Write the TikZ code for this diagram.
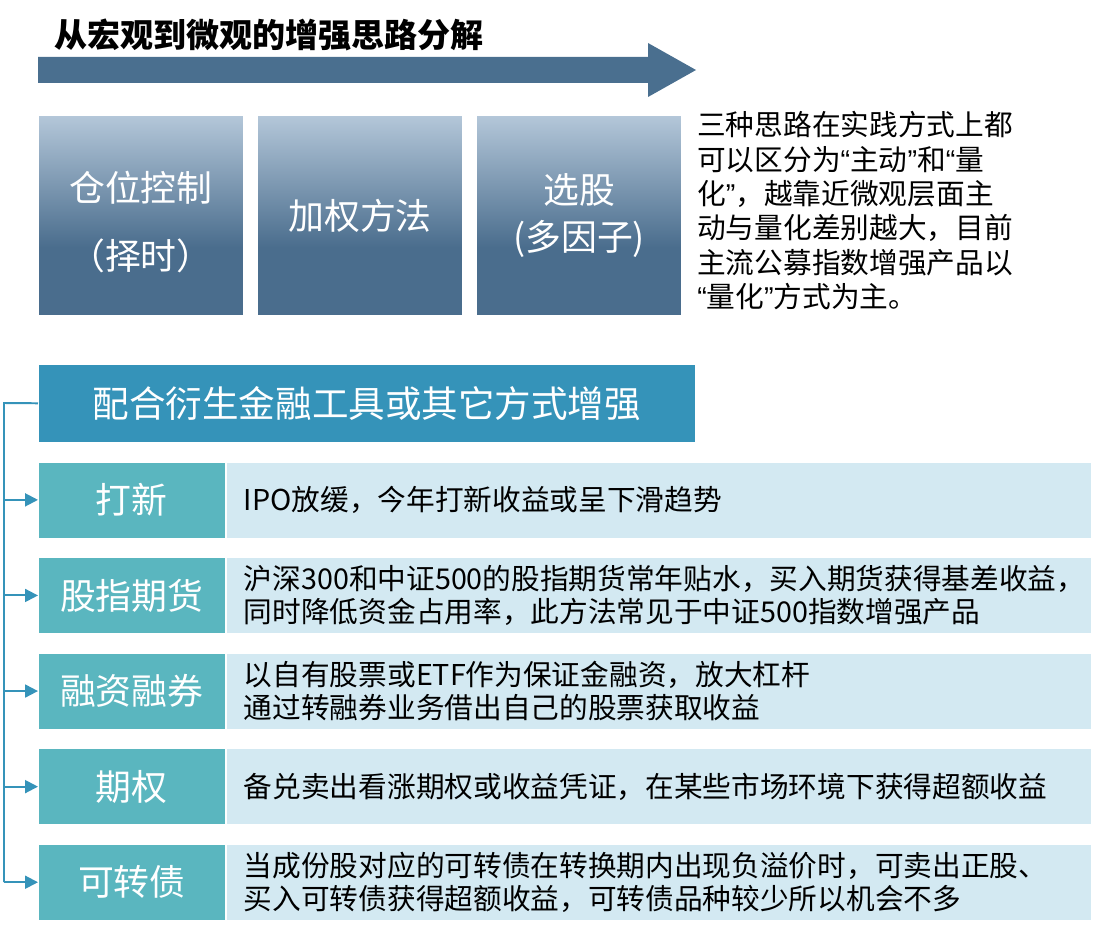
\documentclass[tikz,border=0pt]{standalone}
\usepackage{fontspec}
\setmainfont{Noto Sans CJK SC}
\newfontfamily\quotefont{Liberation Sans}
\usepackage{tikz}
\usetikzlibrary{arrows.meta, positioning, calc}
\definecolor{flowblue}{RGB}{74, 111, 143}
\definecolor{boxtop}{RGB}{180, 199, 217}
\definecolor{boxbot}{RGB}{74, 109, 141}
\definecolor{hdrblue}{RGB}{53, 147, 185}
\definecolor{tealbox}{RGB}{90, 182, 191}
\definecolor{paleblue}{RGB}{211, 233, 242}
\pgfdeclareverticalshading{stageshade}{100bp}{color(0bp)=(boxbot); color(42bp)=(boxbot); color(75bp)=(boxtop); color(100bp)=(boxtop)}
\newcommand{\oq}{{\quotefont “}}
\newcommand{\cq}{{\quotefont ”}}

\begin{document}
\begin{tikzpicture}[
  x=0.025cm, y=-0.025cm,
  stage/.style={shading=stageshade, draw=white, line width=0.6pt, minimum width=5.125cm, minimum height=5cm, inner sep=0pt, align=center, text=white, font=\fontsize{25.5}{34}\selectfont},
  hdrbox/.style={fill=hdrblue, draw=white, minimum width=16.425cm, minimum height=1.95cm, inner sep=0pt, text=white, font=\fontsize{26}{30}\selectfont},
  labbox/.style={fill=tealbox, draw=white, line width=0.4pt, minimum width=4.675cm, minimum height=1.9cm, inner sep=0pt, text=white, font=\fontsize{25.5}{30}\selectfont},
  descbox/.style={fill=paleblue, draw=white, line width=0.4pt, minimum height=1.9cm, text width=20.725cm, inner xsep=0.45cm, inner ysep=0pt, align=left, font=\fontsize{20.4}{23.5}\selectfont},
  rail/.style={draw=hdrblue, line width=1.4pt},
  feed/.style={rail, -{Triangle[length=0.32cm, width=0.32cm]}}
]
  \useasboundingbox (0,0) rectangle (1104,931);

  \node[anchor=west, inner sep=0pt, font=\fontsize{23.5}{26}\selectfont\bfseries] (title) at (54,35) {从宏观到微观的增强思路分解};
  \fill[flowblue] (38,57) -- (648,57) -- (648,43) -- (696,70) -- (648,97) -- (648,83) -- (38,83) -- cycle;

  \node[stage, anchor=north west] (pos) at (38,115) {\\[-0.1cm]仓位控制\\[0.5cm]（择时）};
  \node[stage, right=0.33cm of pos] (wgt) {加权方法};
  \node[stage, right=0.33cm of wgt] (pick) {选股\\(多因子)};

  \node[anchor=north west, inner sep=0pt, align=left, font=\fontsize{20.4}{24.5}\selectfont] (note) at (697,111) {
    三种思路在实践方式上都\\
    可以区分为\oq 主动\cq 和\oq 量\\
    化\cq ，越靠近微观层面主\\
    动与量化差别越大，目前\\
    主流公募指数增强产品以\\
    \oq 量化\cq 方式为主。
  };

  \node[hdrbox, anchor=north west] (hdr) at (38,364) {配合衍生金融工具或其它方式增强};

  \node[labbox, below=0.475cm of hdr.south west, anchor=north west] (ipo) {打新};
  \node[descbox, right=0pt of ipo] (ipod) {IPO放缓，今年打新收益或呈下滑趋势};

  \node[labbox, below=0.475cm of ipo.south west, anchor=north west] (fut) {股指期货};
  \node[descbox, right=0pt of fut] (futd) {沪深300和中证500的股指期货常年贴水，买入期货获得基差收益，\\同时降低资金占用率，此方法常见于中证500指数增强产品};

  \node[labbox, below=0.475cm of fut.south west, anchor=north west] (mrg) {融资融券};
  \node[descbox, right=0pt of mrg] (mrgd) {以自有股票或ETF作为保证金融资，放大杠杆\\通过转融券业务借出自己的股票获取收益};

  \node[labbox, below=0.475cm of mrg.south west, anchor=north west] (opt) {期权};
  \node[descbox, right=0pt of opt] (optd) {备兑卖出看涨期权或收益凭证，在某些市场环境下获得超额收益};

  \node[labbox, below=0.475cm of opt.south west, anchor=north west] (cvb) {可转债};
  \node[descbox, right=0pt of cvb] (cvbd) {当成份股对应的可转债在转换期内出现负溢价时，可卖出正股、\\买入可转债获得超额收益，可转债品种较少所以机会不多};

  \coordinate (bend) at (4,403);
  \draw[rail] (hdr.west) -- (bend) -- (bend |- cvb.west);
  \draw[feed] (bend |- ipo.west) -- (ipo.west);
  \draw[feed] (bend |- fut.west) -- (fut.west);
  \draw[feed] (bend |- mrg.west) -- (mrg.west);
  \draw[feed] (bend |- opt.west) -- (opt.west);
  \draw[feed] (bend |- cvb.west) -- (cvb.west);
\end{tikzpicture}
\end{document}
